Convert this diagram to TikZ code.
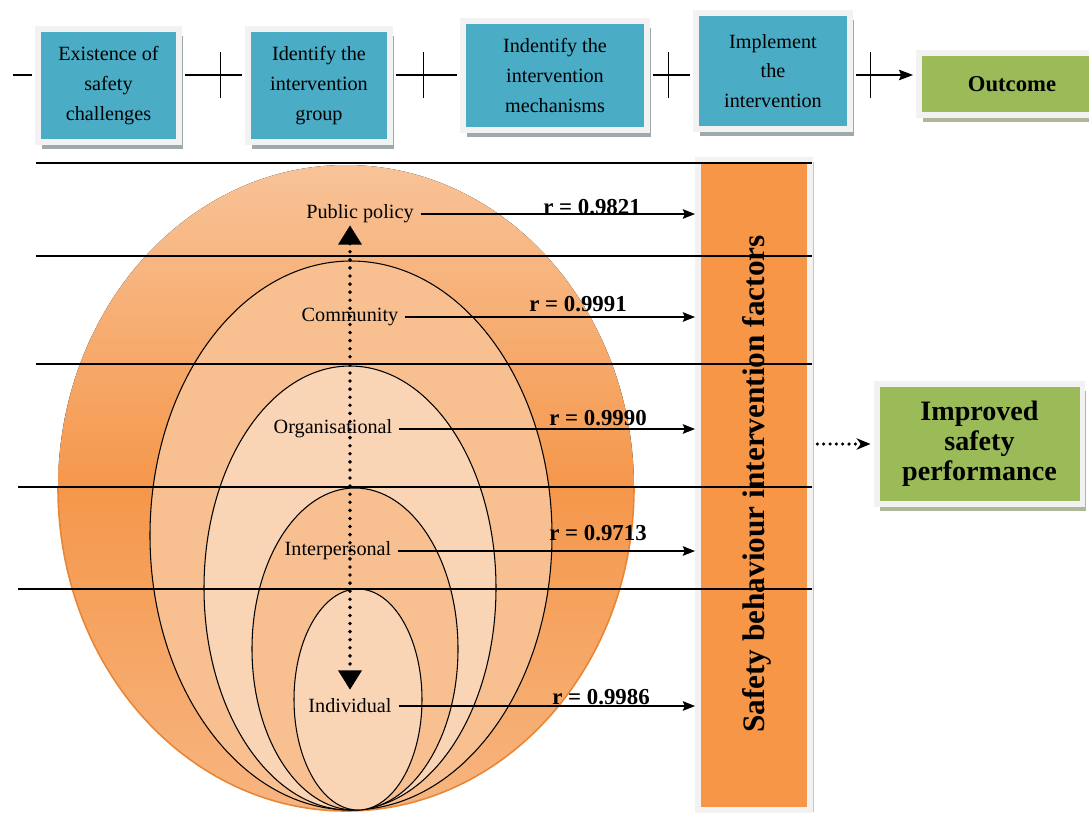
\documentclass[tikz,border=0pt]{standalone}
\usepackage{fontspec}
\setmainfont{Liberation Serif}
\usetikzlibrary{arrows.meta,shadows,positioning}

\definecolor{stepblue}{HTML}{4BACC6}
\definecolor{resultgreen}{HTML}{9BBB59}
\definecolor{barorange}{HTML}{F79646}
\definecolor{framegray}{HTML}{F2F2F2}
\definecolor{shadowgray}{HTML}{9EA9AE}
\definecolor{greenshadow}{HTML}{AEB79A}
\definecolor{bartan}{HTML}{DDBFA3}
\definecolor{ringtop}{HTML}{F8C398}
\definecolor{ringdeep}{HTML}{F5974B}
\definecolor{ringbottom}{HTML}{F7B580}
\definecolor{ringedge}{HTML}{E98636}
\definecolor{ringmid}{HTML}{F8BF90}
\definecolor{ringpale}{HTML}{FAD5B5}

\begin{document}
\begin{tikzpicture}[x=0.02cm, y=-0.02cm,
    framed/.style={draw=framegray, line width=3.4pt, inner sep=0pt, align=center},
    stepbox/.style={framed, fill=stepblue, font=\fontsize{11.5}{17}\selectfont,
      drop shadow={shadow xshift=2pt, shadow yshift=-4pt, fill=shadowgray, opacity=1}},
    resultbox/.style={framed, fill=resultgreen,
      drop shadow={shadow xshift=2pt, shadow yshift=-4pt, fill=greenshadow, opacity=1}},
    factorbar/.style={framed, fill=barorange,
      drop shadow={shadow xshift=2pt, shadow yshift=-1pt, fill=bartan, opacity=1}},
    tickmark/.style={draw, line width=0.7pt, minimum width=0pt, minimum height=0.92cm, inner sep=0pt},
    link/.style={line width=0.7pt, shorten <=1.7pt, shorten >=1.7pt},
    band/.style={line width=0.7pt},
    ring/.style={draw=black, line width=0.6pt},
    level/.style={font=\fontsize{11.5}{14}\selectfont, inner xsep=3.8pt, inner ysep=1pt},
    rval/.style={font=\bfseries\fontsize{13}{15}\selectfont, inner sep=0pt},
    flow/.style={line width=0.7pt, -{Stealth[length=7pt, width=5.5pt, inset=1.2pt]}},
    spread/.style={line width=2.2pt, dash pattern=on 0pt off 4.6pt, line cap=round,
      {Triangle[length=11pt, width=13pt]}-{Triangle[length=11pt, width=13pt]}, shorten >=4pt},
    dotflow/.style={line width=2pt, dash pattern=on 0pt off 3.6pt, line cap=round,
      -{Stealth[length=8pt, width=6.5pt, inset=2.5pt]}, shorten <=2.5pt, shorten >=1.7pt}]

    \useasboundingbox (0,0) rectangle (1089,812);

    % Top row of intervention steps
    \coordinate (row) at (0,75);
    \coordinate (lead) at (10,75);
    \node[stepbox, minimum width=2.82cm, minimum height=2.26cm] (exist) at (108.5,85.5) {Existence of\\safety\\challenges};
    \node[stepbox, minimum width=2.84cm, minimum height=2.26cm] (group) at (319,85.5) {Identify the\\intervention\\group};
    \node[stepbox, minimum width=3.68cm, minimum height=2.18cm] (mech) at (555,75.5) {Indentify the\\intervention\\mechanisms};
    \node[stepbox, minimum width=3.08cm, minimum height=2.32cm] (impl) at (773,71) {Implement\\the\\intervention};
    \node[resultbox, minimum width=3.72cm, minimum height=1.24cm, font=\bfseries\fontsize{12.9}{15}\selectfont] (outcome) at (1012,84) {Outcome};

    % Links between the steps
    \draw[link] (lead) -- (exist.west |- row);
    \draw[link] (exist.east |- row) -- node[tickmark, pos=0.61] {} (group.west |- row);
    \draw[link] (group.east |- row) -- node[tickmark, pos=0.45] {} (mech.west |- row);
    \draw[link] (mech.east |- row) -- node[tickmark, pos=0.43] {} (impl.west |- row);
    \draw[link, -{Stealth[length=8pt, width=6pt, inset=1.2pt]}] (impl.east |- row) -- node[tickmark, pos=0.28] {} (outcome.west |- row);

    % Nested levels of the model
    \fill[top color=ringtop, bottom color=ringbottom, middle color=ringdeep] (346,488) ellipse [x radius=288, y radius=323];
    \draw[ringedge, line width=0.9pt] (58,488) arc [start angle=180, end angle=0, x radius=288, y radius=323];
    \filldraw[ring, fill=ringmid] (351,535.5) ellipse [x radius=201, y radius=274.5];
    \filldraw[ring, fill=ringpale] (350,588) ellipse [x radius=146, y radius=222];
    \filldraw[ring, fill=ringmid] (355,649) ellipse [x radius=103, y radius=161];
    \filldraw[ring, fill=ringpale] (358,699.5) ellipse [x radius=64, y radius=110.5];

    % Intervention factors bar
    \node[factorbar, minimum width=2.24cm, minimum height=13cm] (bar) at (754,485) {};
    \node[rotate=90, font=\bfseries\fontsize{17.8}{20}\selectfont] (barlabel) at (757,484) {Safety behaviour intervention factors};

    % Horizontal bands
    \foreach \y/\x in {163/36, 256/36, 364/36, 487/18, 589/18}
        \draw[band] (\x,\y) -- (812,\y);

    % Level labels
    \node[level] (policy) at (360,214) {Public policy};
    \node[level] (community) at (350,317) {Community};
    \node[level] (organ) at (333,429) {Organisational};
    \node[level] (inter) at (338,551) {Interpersonal};
    \node[level] (indiv) at (350,706) {Individual};

    % Correlation values
    \node[rval] (rpolicy) at (592,207) {r = 0.9821};
    \node[rval] (rcommunity) at (578,304) {r = 0.9991};
    \node[rval] (rorgan) at (598,418) {r = 0.9990};
    \node[rval] (rinter) at (598,533) {r = 0.9713};
    \node[rval] (rindiv) at (601,697) {r = 0.9986};

    % Arrows from each level to the bar
    \foreach \lv in {policy,community,organ,inter,indiv}
        \draw[flow] (\lv.east) -- (\lv.east -| bar.west);

    % Dotted arrow through the levels
    \draw[spread] (policy.south -| indiv.north) -- (indiv.north);

    % Result
    \node[resultbox, minimum width=4.12cm, minimum height=2.4cm, font=\bfseries\fontsize{16}{17}\selectfont] (improved) at (979.5,444) {Improved\\safety\\performance};
    \draw[dotflow] (bar.east |- improved.west) -- (improved.west);
\end{tikzpicture}
\end{document}
